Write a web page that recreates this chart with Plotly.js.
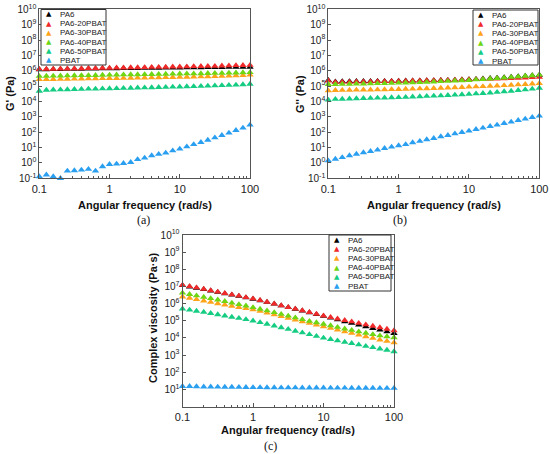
<!DOCTYPE html>
<html><head><meta charset="utf-8">
<script src="https://cdn.plot.ly/plotly-3.0.1.min.js"></script>
<style>html,body{margin:0;padding:0;background:#fff;}#chart{width:550px;height:454px;}</style>
</head><body><div id="chart"></div>
<script>
// ---------- data ----------
const freq = [0.1,0.126,0.158,0.2,0.251,0.316,0.398,0.501,0.631,0.794,1,1.26,1.58,2,2.51,3.16,3.98,5.01,6.31,7.94,10,12.6,15.8,20,25.1,31.6,39.8,50.1,63.1,79.4,100];
const seriesNames = ['PA6','PA6-20PBAT','PA6-30PBAT','PA6-40PBAT','PA6-50PBAT','PBAT'];
const seriesColors = ['#000000','#f02a2a','#ffa31a','#6fd614','#14cc82','#2a9ff0'];

// (a) storage modulus G' (Pa)
const gStorage_PA6   = [1.2e6,1.2e6,1.25e6,1.25e6,1.3e6,1.3e6,1.3e6,1.35e6,1.35e6,1.4e6,1.4e6,1.4e6,1.45e6,1.45e6,1.45e6,1.5e6,1.5e6,1.5e6,1.55e6,1.55e6,1.55e6,1.6e6,1.6e6,1.6e6,1.65e6,1.65e6,1.65e6,1.7e6,1.7e6,1.7e6,1.75e6];
const gStorage_PA620 = [1.25e6,1.3e6,1.3e6,1.35e6,1.35e6,1.4e6,1.4e6,1.45e6,1.45e6,1.5e6,1.5e6,1.55e6,1.55e6,1.6e6,1.6e6,1.65e6,1.7e6,1.7e6,1.75e6,1.8e6,1.8e6,1.85e6,1.9e6,1.95e6,2.0e6,2.0e6,2.1e6,2.15e6,2.2e6,2.25e6,2.3e6];
const gStorage_PA630 = [2.7e5,2.75e5,2.8e5,2.85e5,2.9e5,2.95e5,3.0e5,3.05e5,3.1e5,3.15e5,3.2e5,3.25e5,3.3e5,3.35e5,3.4e5,3.5e5,3.55e5,3.6e5,3.7e5,3.75e5,3.8e5,3.9e5,4.0e5,4.1e5,4.2e5,4.3e5,4.4e5,4.6e5,4.8e5,5.0e5,5.3e5];
const gStorage_PA640 = [4.4e5,4.5e5,4.6e5,4.7e5,4.8e5,4.9e5,5.0e5,5.0e5,5.1e5,5.2e5,5.3e5,5.4e5,5.5e5,5.6e5,5.7e5,5.8e5,5.9e5,6.0e5,6.1e5,6.2e5,6.3e5,6.4e5,6.5e5,6.6e5,6.8e5,6.9e5,7.0e5,7.2e5,7.4e5,7.6e5,7.8e5];
const gStorage_PA650 = [4.8e4,5.5e4,5.7e4,5.9e4,6.0e4,6.2e4,6.3e4,6.5e4,6.6e4,6.8e4,7.0e4,7.1e4,7.3e4,7.5e4,7.7e4,7.9e4,8.1e4,8.3e4,8.5e4,8.8e4,9.0e4,9.3e4,9.6e4,9.9e4,1.02e5,1.06e5,1.1e5,1.15e5,1.2e5,1.27e5,1.35e5];
const gStorage_PBAT  = [0.13,0.17,0.13,0.10,0.30,0.32,0.35,0.39,0.30,0.58,0.82,0.86,0.95,1.1,1.7,2.1,3.0,3.7,4.5,6.3,8.2,11.5,16,22,31,44,63,90,133,190,300];

// (b) loss modulus G'' (Pa)
const gLoss_PA6   = [2.4e5,1.9e5,2.0e5,2.0e5,2.05e5,2.05e5,2.05e5,2.1e5,2.1e5,2.1e5,2.15e5,2.2e5,2.2e5,2.25e5,2.3e5,2.35e5,2.4e5,2.45e5,2.5e5,2.6e5,2.7e5,2.85e5,3.0e5,3.2e5,3.4e5,3.6e5,3.9e5,4.2e5,4.5e5,4.9e5,5.2e5];
const gLoss_PA620 = [2.2e5,1.8e5,1.85e5,1.85e5,1.9e5,1.9e5,1.95e5,2.0e5,2.0e5,2.05e5,2.1e5,2.15e5,2.2e5,2.25e5,2.3e5,2.35e5,2.4e5,2.45e5,2.5e5,2.6e5,2.65e5,2.7e5,2.8e5,2.9e5,3.0e5,3.1e5,3.2e5,3.3e5,3.5e5,3.7e5,3.9e5];
const gLoss_PA630 = [5.0e4,5.3e4,5.4e4,5.5e4,5.6e4,5.7e4,5.8e4,5.9e4,6.0e4,6.1e4,6.2e4,6.4e4,6.6e4,6.8e4,7.0e4,7.2e4,7.5e4,7.8e4,8.1e4,8.4e4,8.8e4,9.2e4,9.6e4,1.0e5,1.05e5,1.1e5,1.17e5,1.24e5,1.32e5,1.4e5,1.5e5];
const gLoss_PA640 = [1.3e5,1.3e5,1.35e5,1.35e5,1.4e5,1.4e5,1.45e5,1.5e5,1.5e5,1.55e5,1.6e5,1.65e5,1.7e5,1.75e5,1.8e5,1.9e5,2.0e5,2.1e5,2.2e5,2.3e5,2.4e5,2.6e5,2.8e5,3.0e5,3.2e5,3.5e5,3.8e5,4.1e5,4.5e5,4.9e5,5.3e5];
const gLoss_PA650 = [1.25e4,1.4e4,1.45e4,1.5e4,1.55e4,1.6e4,1.65e4,1.7e4,1.75e4,1.8e4,1.85e4,1.9e4,2.0e4,2.1e4,2.2e4,2.3e4,2.4e4,2.5e4,2.65e4,2.8e4,3.0e4,3.2e4,3.4e4,3.7e4,4.0e4,4.4e4,4.8e4,5.3e4,5.9e4,6.6e4,7.5e4];
const gLoss_PBAT  = [1.4,1.8,2.3,3.0,3.8,4.7,5.7,7.0,9,11,13.5,16,21,26,33,40,52,63,80,99,120,155,190,240,300,380,465,600,730,930,1150];

// (c) complex viscosity (Pa·s)
const eta_PA6   = [1.15e7,9.6e6,8.1e6,6.8e6,5.6e6,4.6e6,3.8e6,3.2e6,2.7e6,2.2e6,1.85e6,1.5e6,1.2e6,9.5e5,7.5e5,6.0e5,4.8e5,3.8e5,3.0e5,2.35e5,1.85e5,1.45e5,1.15e5,9.0e4,7.2e4,5.7e4,4.5e4,3.6e4,2.9e4,2.3e4,1.85e4];
const eta_PA620 = [1.2e7,1.0e7,8.5e6,7.0e6,5.8e6,4.8e6,4.0e6,3.3e6,2.8e6,2.3e6,1.95e6,1.55e6,1.22e6,9.7e5,7.7e5,6.1e5,4.9e5,3.9e5,3.1e5,2.45e5,1.95e5,1.6e5,1.3e5,1.07e5,8.8e4,7.2e4,5.9e4,4.9e4,4.0e4,3.3e4,2.7e4];
const eta_PA630 = [2.5e6,2.1e6,1.75e6,1.45e6,1.2e6,1.0e6,8.5e5,7.2e5,6.1e5,5.2e5,4.5e5,3.6e5,2.85e5,2.25e5,1.8e5,1.42e5,1.13e5,9.0e4,7.2e4,5.7e4,4.6e4,3.7e4,2.95e4,2.35e4,1.9e4,1.5e4,1.2e4,9.6e3,7.8e3,6.4e3,5.3e3];
const eta_PA640 = [4.2e6,3.5e6,2.9e6,2.4e6,2.0e6,1.65e6,1.35e6,1.1e6,9.0e5,7.4e5,6.0e5,4.8e5,3.85e5,3.05e5,2.4e5,1.9e5,1.5e5,1.2e5,9.5e4,7.8e4,6.4e4,5.2e4,4.2e4,3.4e4,2.8e4,2.3e4,1.9e4,1.6e4,1.35e4,1.2e4,1.05e4];
const eta_PA650 = [5.0e5,4.3e5,3.7e5,3.2e5,2.7e5,2.3e5,1.95e5,1.65e5,1.4e5,1.2e5,1.0e5,8.0e4,6.4e4,5.1e4,4.0e4,3.2e4,2.5e4,2.0e4,1.6e4,1.25e4,1.0e4,8.3e3,6.9e3,5.7e3,4.8e3,4.0e3,3.3e3,2.8e3,2.3e3,1.95e3,1.6e3];
const eta_PBAT  = [15,15,14.5,14,14,13.8,13.5,13.5,13.3,13.2,13,13,12.8,12.7,12.6,12.5,12.5,12.4,12.3,12.2,12.2,12.1,12,12,11.9,11.9,11.8,11.8,11.7,11.7,11.6];

// tick labels
const xTickVals = [0.1,1,10,100];
const xTickText = ['0.1','1','10','100'];
const yTickValsAB = [1e-1,1e0,1e1,1e2,1e3,1e4,1e5,1e6,1e7,1e8,1e9,1e10];
const yTickTextAB = ['10<sup>-1</sup>','10<sup>0</sup>','10<sup>1</sup>','10<sup>2</sup>','10<sup>3</sup>','10<sup>4</sup>','10<sup>5</sup>','10<sup>6</sup>','10<sup>7</sup>','10<sup>8</sup>','10<sup>9</sup>','10<sup>10</sup>'];
const yTickValsC = [1e1,1e2,1e3,1e4,1e5,1e6,1e7,1e8,1e9,1e10];
const yTickTextC = ['10<sup>1</sup>','10<sup>2</sup>','10<sup>3</sup>','10<sup>4</sup>','10<sup>5</sup>','10<sup>6</sup>','10<sup>7</sup>','10<sup>8</sup>','10<sup>9</sup>','10<sup>10</sup>'];

const panelA = [gStorage_PA6,gStorage_PA620,gStorage_PA630,gStorage_PA640,gStorage_PA650,gStorage_PBAT];
const panelB = [gLoss_PA6,gLoss_PA620,gLoss_PA630,gLoss_PA640,gLoss_PA650,gLoss_PBAT];
const panelC = [eta_PA6,eta_PA620,eta_PA630,eta_PA640,eta_PA650,eta_PBAT];

// ---------- build ----------
const W = 550, H = 454;
const px = x => x / W;
const py = y => 1 - y / H;
const SANS = 'Liberation Sans, Arial, sans-serif';
const SERIF = 'Liberation Serif, Times New Roman, serif';

const traces = [];
function addPanel(values, xa, ya) {
  values.forEach((vals, i) => {
    traces.push({
      type: 'scatter', mode: 'markers', x: freq, y: vals,
      xaxis: xa, yaxis: ya, name: seriesNames[i], showlegend: false,
      cliponaxis: false,
      marker: {symbol: 'triangle-up', size: 6.5, color: seriesColors[i], line: {width: 0}}
    });
  });
}
addPanel(panelA, 'x', 'y');
addPanel(panelB, 'x2', 'y2');
addPanel(panelC, 'x3', 'y3');

const minorVals = [];
[0.1, 1, 10].forEach(d => { for (let k = 2; k <= 9; k++) minorVals.push(k * d); });

function xAxis(x0, x1, anchor) {
  return {
    domain: [px(x0), px(x1)], anchor: anchor, type: 'log', range: [-1, 2],
    showline: true, mirror: true, linecolor: '#555', linewidth: 1,
    ticks: 'inside', ticklen: 4, tickcolor: '#555',
    tickvals: xTickVals, ticktext: xTickText,
    tickfont: {family: SANS, size: 11, color: '#222'},
    showgrid: false, zeroline: false,
    minor: {tickvals: minorVals, ticks: 'inside', ticklen: 2, tickcolor: '#555', showgrid: false}
  };
}
function yAxis(yTop, yBot, anchor, r, tv, tt) {
  return {
    domain: [py(yBot), py(yTop)], anchor: anchor, type: 'log', range: r,
    showline: true, mirror: true, linecolor: '#555', linewidth: 1,
    ticks: 'inside', ticklen: 3, tickcolor: '#555',
    tickvals: tv, ticktext: tt,
    tickfont: {family: SANS, size: 10, color: '#222'},
    showgrid: false, zeroline: false
  };
}

const annotations = [];
const shapes = [];
function txt(x, y, text, opts) {
  annotations.push(Object.assign({
    xref: 'paper', yref: 'paper', x: px(x), y: py(y), text: text,
    showarrow: false, xanchor: 'center', yanchor: 'middle'
  }, opts));
}

// axis titles
const titleFont = {family: SANS, size: 11, color: '#111', weight: 'bold'};
txt(145, 205, 'Angular frequency (rad/s)', {font: titleFont});
txt(434, 205, 'Angular frequency (rad/s)', {font: titleFont});
txt(288, 430, 'Angular frequency (rad/s)', {font: titleFont});
txt(10, 94, "G' (Pa)", {font: titleFont, textangle: -90});
txt(300, 94, "G'' (Pa)", {font: titleFont, textangle: -90});
txt(153, 318, 'Complex viscosity (Pa·s)', {font: titleFont, textangle: -90});
// captions
const capFont = {family: SERIF, size: 12, color: '#111'};
txt(143, 220, '(a)', {font: capFont});
txt(400, 220, '(b)', {font: capFont});
txt(270, 446, '(c)', {font: capFont});

// legends
function legend(left, top, right, bottom) {
  shapes.push({type: 'rect', xref: 'paper', yref: 'paper',
    x0: px(left), x1: px(right), y0: py(bottom), y1: py(top),
    line: {color: '#333', width: 1}, fillcolor: 'rgba(255,255,255,1)', layer: 'above'});
  seriesNames.forEach((n, i) => {
    const y = top + 5 + i * 9.2;
    txt(left + 8, y, '▲', {font: {family: 'DejaVu Sans', size: 7, color: seriesColors[i]}});
    txt(left + 17, y, n, {xanchor: 'left', font: {family: SANS, size: 8, color: '#222'}});
  });
}
legend(41, 9.5, 106, 65);
legend(473, 10, 538, 65);
legend(329, 235, 391, 291);

const layout = {
  width: W, height: H, margin: {l: 0, r: 0, t: 0, b: 0},
  paper_bgcolor: '#fff', plot_bgcolor: '#fff', showlegend: false,
  xaxis: xAxis(39.3, 250, 'y'),
  yaxis: yAxis(9.3, 178.3, 'x', [-1, 10], yTickValsAB, yTickTextAB),
  xaxis2: xAxis(328.3, 539.3, 'y2'),
  yaxis2: yAxis(9.3, 178.3, 'x2', [-1, 10], yTickValsAB, yTickTextAB),
  xaxis3: xAxis(182.5, 394, 'y3'),
  yaxis3: yAxis(235, 406.5, 'x3', [0, 10], yTickValsC, yTickTextC),
  annotations: annotations, shapes: shapes
};

Plotly.newPlot('chart', traces, layout, {staticPlot: true, displayModeBar: false});
</script></body></html>
